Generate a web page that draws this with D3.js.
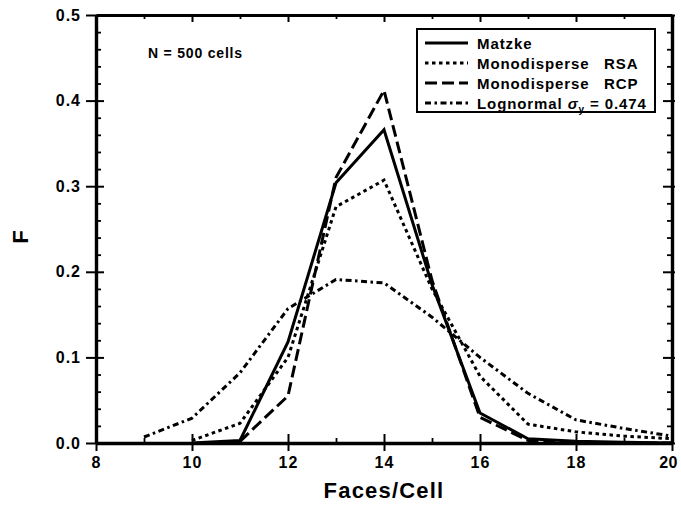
<!DOCTYPE html>
<html>
<head>
<meta charset="utf-8">
<script src="https://cdn.jsdelivr.net/npm/d3@7"></script>
<style>
  body { margin: 0; background: #fff; }
  svg text { font-family: "Liberation Sans", Arial, sans-serif; font-weight: bold; fill: #000; }
</style>
</head>
<body>
<svg id="chart" width="681" height="506"></svg>
<script>
// ── data ─────────────────────────────────────────────────────
const facesMatzke = [10, 11, 12, 13, 14, 15, 16, 17, 18, 19, 20];
const fMatzke     = [0.0, 0.003, 0.118, 0.304, 0.366, 0.185, 0.035, 0.005, 0.002, 0.001, 0.0];

const facesRSA = [10, 11, 12, 13, 14, 15, 16, 17, 18, 19, 20];
const fRSA     = [0.003, 0.023, 0.10, 0.276, 0.307, 0.18, 0.078, 0.022, 0.013, 0.008, 0.005];

const facesRCP = [11, 12, 13, 14, 15, 16, 17, 18, 19, 20];
const fRCP     = [0.002, 0.055, 0.31, 0.412, 0.19, 0.03, 0.003, 0.0, 0.0, 0.0];

const facesLog = [9, 10, 11, 12, 13, 14, 15, 16, 17, 18, 19, 20];
const fLog     = [0.007, 0.029, 0.082, 0.157, 0.191, 0.187, 0.147, 0.10, 0.058, 0.027, 0.017, 0.008];

const xMajor = [8, 10, 12, 14, 16, 18, 20];
const xMinor = [9, 11, 13, 15, 17, 19];
const yMajor = [0, 0.1, 0.2, 0.3, 0.4, 0.5];
const yMinor = d3.range(0.02, 0.5, 0.02).filter(v => Math.abs(v * 10 - Math.round(v * 10)) > 1e-6);

const series = [
  { name: 'Matzke',       tag: '',    xs: facesMatzke, ys: fMatzke, dash: null },
  { name: 'Monodisperse', tag: 'RSA', xs: facesRSA,    ys: fRSA,    dash: '3.5 3.5' },
  { name: 'Monodisperse', tag: 'RCP', xs: facesRCP,    ys: fRCP,    dash: '12 5' },
  { name: 'Lognormal',    tag: 'sigma', xs: facesLog,  ys: fLog,    dash: '6 3.5 2.5 3.5' }
];

const svg = d3.select('#chart');
const L = 96, R = 672, T = 15, B = 443;

const x = d3.scaleLinear().domain([8, 20]).range([L, R]);
const y = d3.scaleLinear().domain([0, 0.5]).range([B, T]);

// ── series lines ─────────────────────────────────────────────
const line = d3.line().x(d => x(d[0])).y(d => y(d[1]));
series.forEach(s => {
  svg.append('path')
    .datum(s.xs.map((v, i) => [v, s.ys[i]]))
    .attr('d', line)
    .attr('fill', 'none')
    .attr('stroke', '#000')
    .attr('stroke-width', 3)
    .attr('stroke-dasharray', s.dash)
    .attr('stroke-linejoin', 'miter');
});

// ── axes / frame ─────────────────────────────────────────────
function styleAxis(g, w) {
  g.select('.domain').attr('stroke-width', w);
  g.selectAll('.tick line').attr('stroke-width', 2);
  g.selectAll('.tick text').attr('font-size', 16).attr('letter-spacing', 1)
    .attr('font-family', '"Liberation Sans", Arial, sans-serif').attr('font-weight', 'bold');
}

// bottom majors with labels, ticks crossing the axis
const gB = svg.append('g').attr('transform', `translate(0,${B})`)
  .call(d3.axisBottom(x).tickValues(xMajor).tickFormat(d3.format('d')).tickSize(8).tickSizeOuter(0).tickPadding(6));
gB.selectAll('.tick line').attr('y1', -9);
styleAxis(gB, 3.4);
// last label sits against the window edge: nudge it in
gB.selectAll('.tick text').filter(d => d === 20).attr('dx', -4).attr('letter-spacing', 0.3);
svg.append('g').attr('transform', `translate(0,${B})`)
  .call(d3.axisBottom(x).tickValues(xMinor).tickFormat('').tickSize(-5).tickSizeOuter(0))
  .call(g => { g.select('.domain').remove(); g.selectAll('line').attr('stroke-width', 1.8); });

// left majors with labels
const gL = svg.append('g').attr('transform', `translate(${L},0)`)
  .call(d3.axisLeft(y).tickValues(yMajor).tickFormat(d3.format('.1f')).tickSize(10).tickSizeOuter(0).tickPadding(5));
gL.selectAll('.tick line').attr('x1', 8);
styleAxis(gL, 3.4);
svg.append('g').attr('transform', `translate(${L},0)`)
  .call(d3.axisLeft(y).tickValues(yMinor).tickFormat('').tickSize(-5).tickSizeOuter(0))
  .call(g => { g.select('.domain').remove(); g.selectAll('line').attr('stroke-width', 1.8); });

// top: inward ticks every face
const gT = svg.append('g').attr('transform', `translate(0,${T})`)
  .call(d3.axisTop(x).tickValues(xMajor).tickFormat('').tickSize(-7).tickSizeOuter(0));
styleAxis(gT, 3.2);
svg.append('g').attr('transform', `translate(0,${T})`)
  .call(d3.axisTop(x).tickValues(xMinor).tickFormat('').tickSize(-4).tickSizeOuter(0))
  .call(g => { g.select('.domain').remove(); g.selectAll('line').attr('stroke-width', 1.8); });

// right: inward ticks
const gR = svg.append('g').attr('transform', `translate(${R},0)`)
  .call(d3.axisRight(y).tickValues(yMajor).tickFormat('').tickSize(-9).tickSizeOuter(0));
gR.selectAll('.tick line').attr('x1', 3);
styleAxis(gR, 3.4);
svg.append('g').attr('transform', `translate(${R},0)`)
  .call(d3.axisRight(y).tickValues(yMinor).tickFormat('').tickSize(-5).tickSizeOuter(0))
  .call(g => { g.select('.domain').remove(); g.selectAll('line').attr('stroke-width', 1.8); });

// ── titles ───────────────────────────────────────────────────
svg.append('text')
  .attr('x', (L + R) / 2).attr('y', 498)
  .attr('text-anchor', 'middle')
  .attr('font-size', 22).attr('letter-spacing', 1.2)
  .text('Faces/Cell');

svg.append('text')
  .attr('transform', 'translate(28,237) rotate(-90)')
  .attr('text-anchor', 'middle')
  .attr('font-size', 22)
  .text('F');

svg.append('text')
  .attr('x', 148).attr('y', 58)
  .attr('font-size', 14).attr('letter-spacing', 0.8)
  .text('N = 500 cells');

// ── legend ───────────────────────────────────────────────────
const lg = svg.append('g');
lg.append('rect')
  .attr('x', 417).attr('y', 29).attr('width', 238).attr('height', 83)
  .attr('fill', '#fff').attr('stroke', '#000').attr('stroke-width', 2);

const rowY = [43, 63, 83, 103];
series.forEach((s, i) => {
  lg.append('line')
    .attr('x1', 425).attr('x2', 468).attr('y1', rowY[i]).attr('y2', rowY[i])
    .attr('stroke', '#000').attr('stroke-width', 3)
    .attr('stroke-dasharray', s.dash);
  const t = lg.append('text')
    .attr('x', 477).attr('y', rowY[i] + 5.5)
    .attr('font-size', 15).attr('letter-spacing', 0.9);
  if (s.tag === 'sigma') {
    t.append('tspan').text(s.name + ' ');
    t.append('tspan').attr('font-style', 'italic').text('σ');
    t.append('tspan').attr('font-size', 10).attr('dy', 4).text('y');
    t.append('tspan').attr('dy', -4).text(' = 0.474');
  } else {
    t.text(s.name);
    if (s.tag) {
      lg.append('text')
        .attr('x', 604).attr('y', rowY[i] + 5.5)
        .attr('font-size', 15).attr('letter-spacing', 0.9)
        .text(s.tag);
    }
  }
});
</script>
</body>
</html>
